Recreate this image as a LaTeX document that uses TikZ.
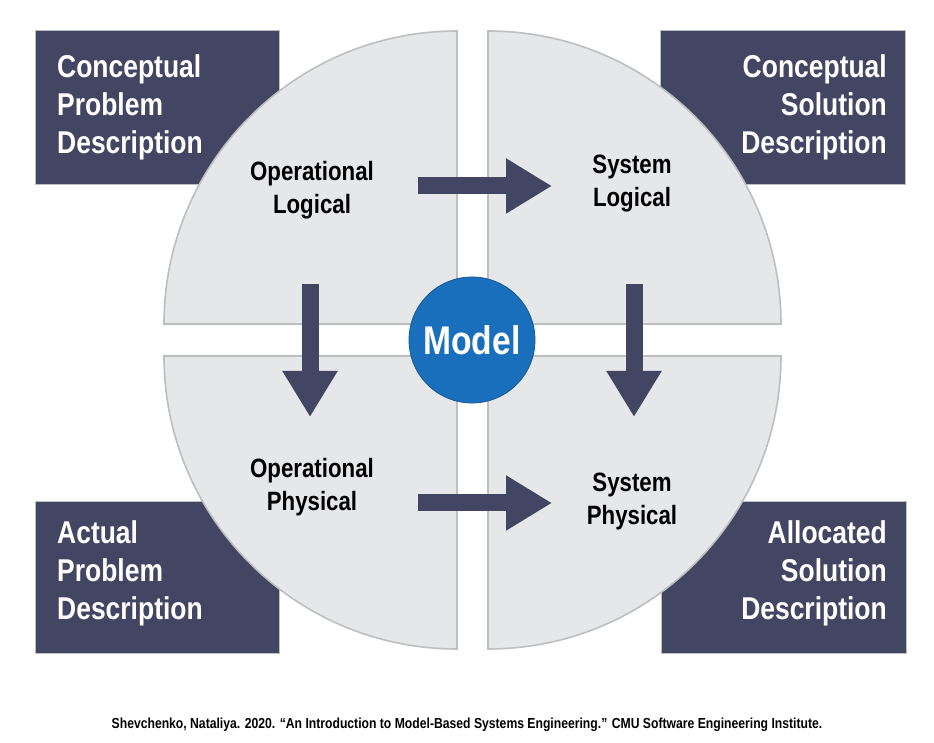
\documentclass[tikz,border=0pt]{standalone}
\usepackage{fontspec}
\setmainfont[FakeStretch=0.84]{Liberation Sans}
\usepackage{tikz}
\usepackage{tkz-euclide}
\usetikzlibrary{arrows.meta}
\definecolor{slate}{HTML}{424663}
\definecolor{paper}{HTML}{E6E7E8}
\definecolor{rim}{HTML}{BDBEC0}
\definecolor{modelblue}{HTML}{1A6FBD}
\tikzset{
	descbox/.style={fill=slate,draw=rim,line width=0.8pt},
	desctext/.style={text=white,font=\fontsize{31.5}{38}\selectfont\bfseries,inner sep=0pt},
	quarter/.style={fill=paper,draw=rim,line width=1.6pt},
	viewtext/.style={font=\fontsize{26.5}{33}\selectfont\bfseries,align=center,inner sep=0pt},
	flow/.style={draw=slate,line width=17pt,-{Triangle[width=52pt,length=46pt]}},
}
\begin{document}
\begin{tikzpicture}[x=1pt,y=1pt]
			\useasboundingbox(0,0) rectangle (934,742);
			\tkzDefPoints{418/556/A, 552/556/B, 418/239/C, 552/239/D, 310/458/E, 310/325/F, 634/458/G, 634/325/H, 472/402/M}
			\draw[descbox](35,558) rectangle (279,712);
			\draw[descbox](660,558) rectangle (905,712);
			\draw[descbox](35,89) rectangle (279,241);
			\draw[descbox](661,89) rectangle (906,241);
			\node[desctext,anchor=west,align=left](cpd) at (57,635) {Conceptual\\Problem\\Description};
			\node[desctext,anchor=east,align=right](csd) at (887,635) {Conceptual\\Solution\\Description};
			\node[desctext,anchor=west,align=left](apd) at (57,169) {Actual\\Problem\\Description};
			\node[desctext,anchor=east,align=right](asd) at (887,169) {Allocated\\Solution\\Description};
			\draw[quarter](457,418)--(164,418) arc (180:90:293)--cycle;
			\draw[quarter](488,418)--(488,711) arc (90:0:293)--cycle;
			\draw[quarter](457,386)--(164,386) arc (180:270:293)--cycle;
			\draw[quarter](488,386)--(781,386) arc (0:-90:293)--cycle;
			\node[viewtext](ol) at (312,552) {Operational\\Logical};
			\node[viewtext](sl) at (632,558) {System\\Logical};
			\node[viewtext](op) at (312,255) {Operational\\Physical};
			\node[viewtext](sp) at (632,241) {System\\Physical};
			\draw[flow](A)--(B);
			\draw[flow](C)--(D);
			\draw[flow](E)--(F);
			\draw[flow](G)--(H);
			\node[circle,fill=modelblue,draw=modelblue!80!black,line width=0.8pt,minimum size=126pt,inner sep=0pt,text=white,font=\fontsize{40}{42}\selectfont\bfseries](model) at (M) {Model};
			\node[font=\fontsize{14.5}{16}\selectfont\bfseries](cite) at (467,17) {Shevchenko, Nataliya. 2020. “An Introduction to Model-Based Systems Engineering.” CMU Software Engineering Institute.};
		\end{tikzpicture}
\end{document}
